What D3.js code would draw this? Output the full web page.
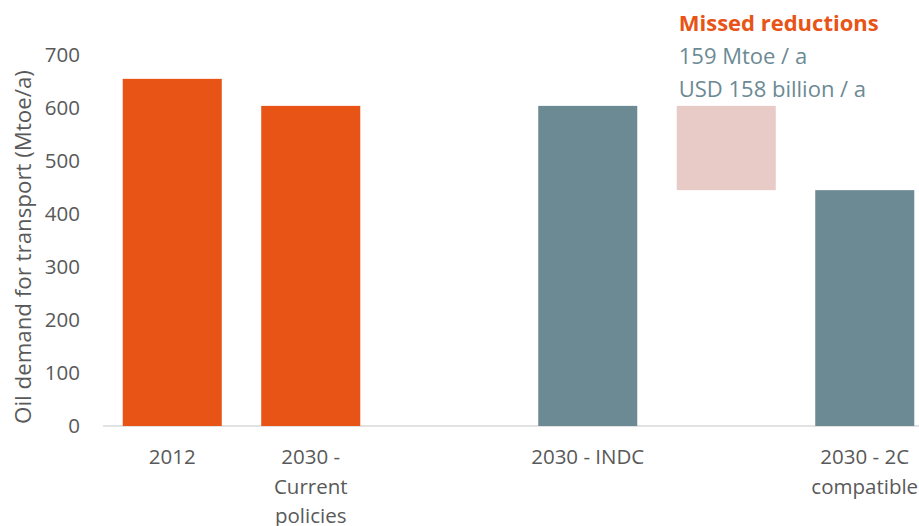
<!DOCTYPE html>
<html>
<head>
<meta charset="utf-8">
<script src="https://cdn.jsdelivr.net/npm/d3@7"></script>
<style>
	body { margin: 0; background: #fff; }
	svg { display: block; font-family: "Open Sans", sans-serif; }
</style>
</head>
<body>
<svg id="chart"></svg>
<script>
// slots on the x axis, one empty slot between current policies and INDC
let slots = ["2012", "2030 - Current policies", "gap", "2030 - INDC", "missed", "2030 - 2C compatible"];
let slotLabels = [["2012"], ["2030 -", "Current", "policies"], [], ["2030 - INDC"], [], ["2030 - 2C", "compatible"]];

let barCats = ["2012", "2030 - Current policies", "2030 - INDC", "2030 - 2C compatible"];
let barValues = [655, 604, 604, 445];
let barGroup = ["now", "now", "scen", "scen"];

// floating bar: from 2C level up to INDC level
let missedFrom = 445;
let missedTo = 604;

let yTicks = [0, 100, 200, 300, 400, 500, 600, 700];
let yTitle = "Oil demand for transport (Mtoe/a)";
let noteLines = ["Missed reductions", "159 Mtoe / a", "USD 158 billion / a"];

function makeChart() {
	let w = 919;
	let h = 526;

	let marginT = 55;
	let marginL = 103;
	let marginB = 100;

	let colors = { now: "#e85316", scen: "#6b8a94" };

	let chart = d3.select("#chart")
		.attr("width", w)
		.attr("height", h);

	let xScale = d3.scaleBand()
		.domain(slots)
		.range([marginL, marginL + 6 * 138.5])
		.paddingInner(0.285)
		.paddingOuter(0.1425);

	let yScale = d3.scaleLinear()
		.domain([0, 700])
		.range([h - marginB, marginT]);

	// gridless axis: only the baseline
	chart.append("line")
		.attr("x1", marginL)
		.attr("x2", w)
		.attr("y1", yScale(0))
		.attr("y2", yScale(0))
		.attr("stroke", "#d9d9d9")
		.attr("stroke-width", 1.5);

	let yAxis = d3.axisLeft(yScale)
		.tickValues(yTicks)
		.tickSize(0)
		.tickPadding(0);

	let yG = chart.append("g")
		.attr("transform", "translate(80,0)")
		.call(yAxis);
	yG.select(".domain").remove();
	yG.selectAll("text")
		.attr("fill", "#595959")
		.style("font-size", "20.5px")
		.style("font-family", "'Open Sans', sans-serif");

	// bars
	chart.append("g")
		.selectAll("rect")
		.data(barCats)
		.enter()
		.append("rect")
		.attr("x", d => xScale(d))
		.attr("width", xScale.bandwidth())
		.attr("y", (d, i) => yScale(barValues[i]))
		.attr("height", (d, i) => yScale(0) - yScale(barValues[i]))
		.attr("fill", (d, i) => colors[barGroup[i]]);

	// missed reductions
	chart.append("rect")
		.attr("x", xScale("missed"))
		.attr("width", xScale.bandwidth())
		.attr("y", yScale(missedTo))
		.attr("height", yScale(missedFrom) - yScale(missedTo))
		.attr("fill", "#e8cac7");

	// category labels
	let xl = chart.append("g")
		.selectAll("text")
		.data(slots)
		.enter()
		.append("text")
		.attr("x", d => xScale(d) + xScale.bandwidth() / 2)
		.attr("y", 464)
		.attr("text-anchor", "middle")
		.attr("fill", "#595959")
		.style("font-size", "20.5px");

	xl.selectAll("tspan")
		.data((d, i) => slotLabels[i])
		.enter()
		.append("tspan")
		.attr("x", function () { return d3.select(this.parentNode).attr("x"); })
		.attr("dy", (d, i) => i == 0 ? 0 : 29.5)
		.text(d => d);

	// y title
	chart.append("text")
		.attr("transform", "rotate(-90)")
		.attr("x", -247)
		.attr("y", 31)
		.attr("text-anchor", "middle")
		.attr("fill", "#595959")
		.style("font-size", "22.3px")
		.text(yTitle);

	// note
	let nx = xScale("missed") + 2;
	chart.append("text")
		.attr("x", nx)
		.attr("y", 31)
		.attr("fill", "#e85316")
		.style("font-size", "22px")
		.style("font-weight", "bold")
		.text(noteLines[0]);

	chart.append("g")
		.selectAll("text")
		.data(noteLines.slice(1))
		.enter()
		.append("text")
		.attr("x", nx)
		.attr("y", (d, i) => 64 + i * 33)
		.attr("fill", "#6b8a94")
		.style("font-size", "22px")
		.text(d => d);
}

window.onload = function () {
	makeChart();
}
</script>
</body>
</html>
